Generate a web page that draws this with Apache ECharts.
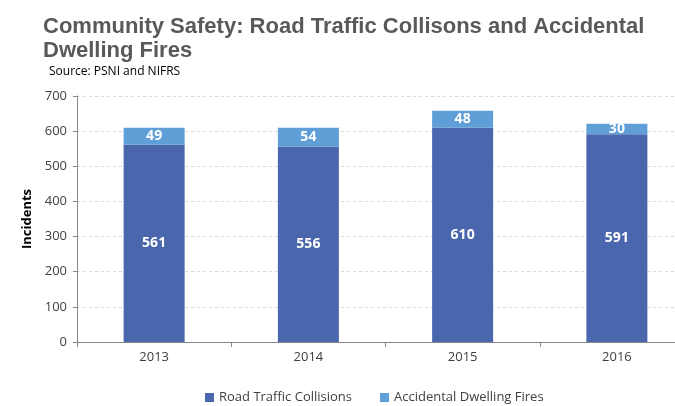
<!DOCTYPE html>
<html>
<head>
<meta charset="utf-8">
<script src="https://cdn.jsdelivr.net/npm/echarts@6/dist/echarts.min.js"></script>
<style>
  html, body { margin: 0; padding: 0; background: #fff; overflow: hidden; }
  /* plot area runs past the right edge of the picture, as in the original */
  #chart { width: 694px; height: 406px; }
</style>
</head>
<body>
<div id="chart"></div>
<script>
// data
const years = ['2013', '2014', '2015', '2016'];
const roadCollisions = [561, 556, 610, 591];
const dwellingFires = [49, 54, 48, 30];
const yTicks = [0, 100, 200, 300, 400, 500, 600, 700];

const chart = echarts.init(document.getElementById('chart'));

const labelStyle = {
  show: true,
  position: 'inside',
  color: '#fff',
  fontWeight: 'bold',
  fontSize: 14,
  fontFamily: 'Open Sans'
};

chart.setOption({
  animation: false,
  title: [
    {
      text: 'Community Safety: Road Traffic Collisons and Accidental\nDwelling Fires',
      left: 38,
      top: 10,
      textStyle: {
        fontFamily: 'Liberation Sans',
        fontSize: 22,
        fontWeight: 'bold',
        color: '#595959',
        lineHeight: 24
      }
    },
    {
      text: 'Source: PSNI and NIFRS',
      left: 44,
      top: 61,
      textStyle: {
        fontFamily: 'Open Sans',
        fontSize: 12,
        fontWeight: 'normal',
        color: '#000'
      }
    }
  ],
  legend: {
    data: ['Road Traffic Collisions', 'Accidental Dwelling Fires'],
    left: 200,
    top: 386,
    itemWidth: 9,
    itemHeight: 9,
    itemGap: 28,
    icon: 'rect',
    textStyle: { fontFamily: 'Open Sans', fontSize: 13, color: '#404040' }
  },
  grid: {
    left: 77,
    top: 96,
    right: 0,
    height: 246,
    containLabel: false
  },
  xAxis: {
    type: 'category',
    data: years,
    axisLine: { lineStyle: { color: '#868686' } },
    axisTick: { show: true, length: 5, lineStyle: { color: '#868686' } },
    axisLabel: { fontFamily: 'Open Sans', fontSize: 13, color: '#404040', margin: 9 }
  },
  yAxis: {
    type: 'value',
    min: yTicks[0],
    max: yTicks[yTicks.length - 1],
    interval: 100,
    name: 'Incidents',
    nameLocation: 'middle',
    nameGap: 42,
    nameTextStyle: { fontFamily: 'Open Sans', fontWeight: 'bold', fontSize: 13, color: '#000' },
    axisLine: { show: true, lineStyle: { color: '#868686' } },
    axisTick: { show: true, length: 4, lineStyle: { color: '#868686' } },
    axisLabel: { fontFamily: 'Open Sans', fontSize: 13, color: '#404040', margin: 10 },
    splitLine: { lineStyle: { color: '#d9d9d9', type: [3, 3] } }
  },
  series: [
    {
      name: 'Road Traffic Collisions',
      type: 'bar',
      stack: 'total',
      barWidth: 61,
      data: roadCollisions,
      itemStyle: { color: '#4A66AC' },
      label: labelStyle
    },
    {
      name: 'Accidental Dwelling Fires',
      type: 'bar',
      stack: 'total',
      barWidth: 61,
      data: dwellingFires,
      itemStyle: { color: '#5F9ED6' },
      label: labelStyle
    }
  ]
});
</script>
</body>
</html>
